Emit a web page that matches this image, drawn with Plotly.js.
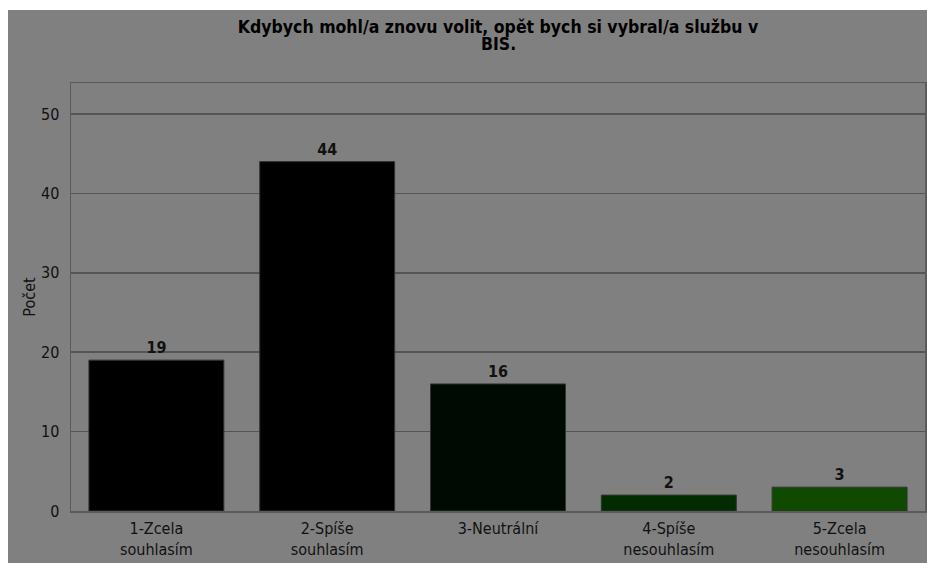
<!DOCTYPE html>
<html>
<head>
<meta charset="utf-8">
<script src="https://cdn.plot.ly/plotly-3.0.1.min.js"></script>
<style>
  html, body { margin: 0; padding: 0; background: #ffffff; }
  #plot { position: absolute; left: 8px; top: 10px; width: 919px; height: 553px; }
</style>
</head>
<body>
<div id="plot"></div>
<script>
// answer categories (x axis)
let categories = ["1-Zcela<br>souhlasím", "2-Spíše<br>souhlasím", "3-Neutrální", "4-Spíše<br>nesouhlasím", "5-Zcela<br>nesouhlasím"]
// counts per answer
let counts = [19, 44, 16, 2, 3]
// bar colours, dark to green
let barColors = ["#000000", "#000000", "#010a02", "#002c00", "#0f4a00"]

let fam = "DejaVu Sans Condensed, DejaVu Sans"

let trace = {
    x: categories,
    y: counts,
    type: "bar",
    text: counts.map(String),
    textposition: "outside",
    textfont: { family: fam, size: 16, color: "#111111", weight: "bold" },
    cliponaxis: false,
    marker: {
        color: barColors,
        line: { color: "#2e362e", width: 1 }
    },
    hoverinfo: "none"
}

let layout = {
    width: 919,
    height: 553,
    paper_bgcolor: "#808080",
    plot_bgcolor: "#808080",
    font: { family: fam, size: 16, color: "#111111" },
    showlegend: false,
    bargap: 0.21,
    title: {
        text: "<b>Kdybych mohl/a znovu volit, opět bych si vybral/a službu v</b>",
        font: { family: fam, size: 17.5, color: "#000000" },
        x: 0.5,
        xref: "paper",
        xanchor: "center",
        y: 0.98,
        yref: "container",
        yanchor: "top"
    },
    // second title line, set tighter than plotly's line height
    annotations: [{
        text: "<b>BIS.</b>",
        xref: "paper",
        yref: "paper",
        x: 0.5,
        y: 1,
        yshift: 51,
        showarrow: false,
        font: { family: fam, size: 17.5, color: "#000000" }
    }],
    margin: { l: 63, r: 2, t: 73, b: 52, pad: 0 },
    xaxis: {
        range: [-0.5, 4.5],
        showgrid: false,
        showline: true,
        mirror: true,
        linecolor: "#5a5a5a",
        linewidth: 1.5,
        ticks: "",
        ticklabelstandoff: 2,
        tickfont: { family: fam, size: 16, color: "#111111" }
    },
    yaxis: {
        range: [0, 53.9],
        tickvals: [0, 10, 20, 30, 40, 50],
        showgrid: true,
        gridcolor: "#555555",
        gridwidth: 1.5,
        zeroline: false,
        showline: true,
        mirror: true,
        linecolor: "#5a5a5a",
        linewidth: 1.5,
        ticks: "",
        ticklabelstandoff: 7,
        tickfont: { family: fam, size: 16, color: "#111111" },
        title: {
            text: "Počet",
            font: { family: fam, size: 16, color: "#111111" },
            standoff: 1
        }
    }
}

Plotly.newPlot("plot", [trace], layout, { displayModeBar: false, staticPlot: true });
</script>
</body>
</html>
